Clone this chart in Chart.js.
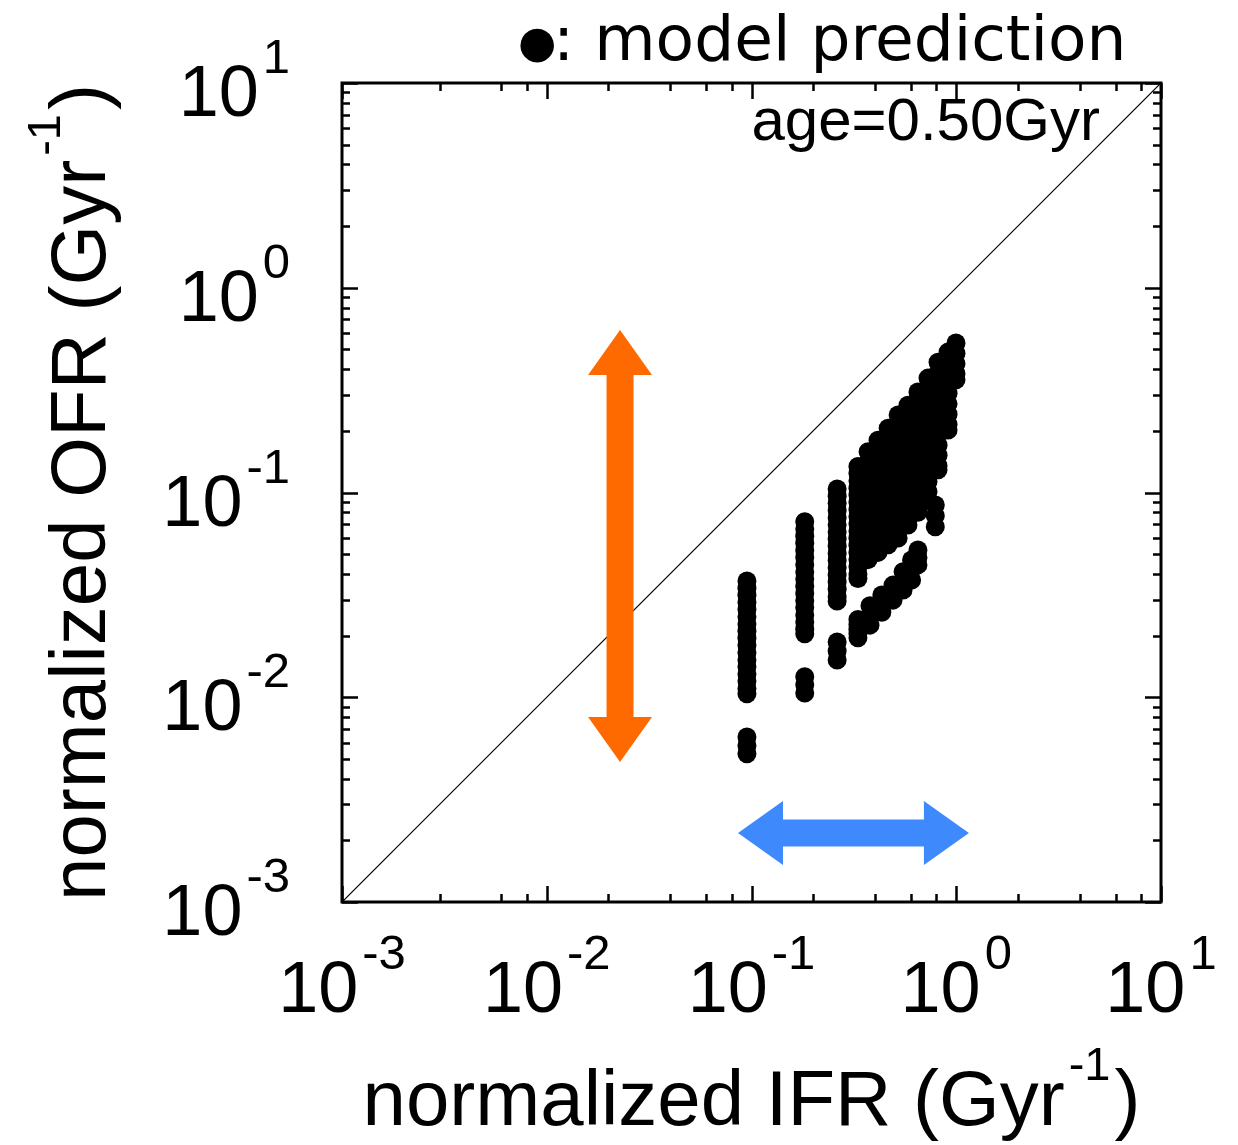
<!DOCTYPE html>
<html>
<head>
<meta charset="utf-8">
<script src="https://cdn.jsdelivr.net/npm/chart.js@4.4.1/dist/chart.umd.min.js"></script>
<style>
  body { margin: 0; background: #fff; }
  #wrap { width: 1238px; height: 1145px; }
</style>
</head>
<body>
<div id="wrap"><canvas id="ofrChart" width="1238" height="1145"></canvas></div>
<script>
// normalized IFR of each model column, and the OFR values predicted in that column
const ifrColumns = [0.095, 0.182, 0.262, 0.331, 0.371, 0.379, 0.415, 0.433, 0.465, 0.491,
                    0.520, 0.550, 0.581, 0.605, 0.650, 0.728, 0.79, 0.815, 0.912, 0.997];
const ofrColumns = [
  [0.0370, 0.0341, 0.0315, 0.0290, 0.0268, 0.0247, 0.0228, 0.0210, 0.0194, 0.0179, 0.0165,
   0.0152, 0.0141, 0.0130, 0.0120, 0.0110, 0.0104, 0.0064, 0.0058, 0.0053],
  [0.0720, 0.0664, 0.0612, 0.0565, 0.0521, 0.0481, 0.0444, 0.0409, 0.0378, 0.0348, 0.0321,
   0.0296, 0.0274, 0.0252, 0.0233, 0.0215, 0.0204, 0.0126, 0.0115, 0.0105],
  [0.104, 0.0959, 0.0885, 0.0817, 0.0753, 0.0695, 0.0641, 0.0592, 0.0546, 0.0504, 0.0465,
   0.0429, 0.0395, 0.0365, 0.0337, 0.0310, 0.0295, 0.0186, 0.0168, 0.0152],
  [0.134, 0.124, 0.114, 0.105, 0.0971, 0.0895, 0.0826, 0.0762, 0.0703, 0.0649, 0.0598,
   0.0552, 0.0509, 0.0470, 0.0434, 0.0400, 0.0380, 0.0240, 0.0227, 0.0215, 0.0205, 0.0195],
  [0.158, 0.141, 0.125, 0.112, 0.100, 0.089, 0.079, 0.070, 0.063, 0.056, 0.050, 0.047],
  [0.028, 0.025, 0.0225],
  [0.180, 0.160, 0.143, 0.127, 0.113, 0.101, 0.090, 0.080, 0.071, 0.063, 0.056, 0.051],
  [0.0316, 0.0285, 0.026],
  [0.206, 0.183, 0.163, 0.145, 0.129, 0.115, 0.102, 0.091, 0.081, 0.072, 0.064, 0.0555],
  [0.0353, 0.032, 0.0298],
  [0.239, 0.212, 0.189, 0.168, 0.150, 0.133, 0.118, 0.105, 0.094, 0.083, 0.074, 0.066, 0.060],
  [0.041, 0.037, 0.0334],
  [0.267, 0.238, 0.212, 0.189, 0.168, 0.149, 0.133, 0.118, 0.105, 0.094, 0.083, 0.074, 0.0694],
  [0.0468, 0.042, 0.0374],
  [0.310, 0.276, 0.246, 0.219, 0.195, 0.173, 0.154, 0.137, 0.122, 0.109, 0.097, 0.086, 0.080, 0.0524, 0.048, 0.0443],
  [0.362, 0.322, 0.287, 0.255, 0.227, 0.202, 0.180, 0.160, 0.143, 0.127, 0.113, 0.101, 0.092],
  [0.087, 0.077, 0.068],
  [0.433, 0.385, 0.343, 0.305, 0.272, 0.242, 0.215, 0.192, 0.170, 0.152, 0.135, 0.129],
  [0.485, 0.432, 0.385, 0.342, 0.305, 0.271, 0.241, 0.215, 0.202],
  [0.537, 0.478, 0.425, 0.380, 0.355]
];

// axes range and decade labels
const axisMin = 0.001;
const axisMax = 10;
const decadeValues = [0.001, 0.01, 0.1, 1, 10];
const decadeExponents = ["-3", "-2", "-1", "0", "1"];

// one-to-one line and the two range arrows (data units)
const oneToOneX = [0.001, 10];
const oneToOneY = [0.001, 10];
const orangeArrowX = [0.0228, 0.0228];
const orangeArrowY = [0.00483, 0.622];
const blueArrowX = [0.0859, 1.153];
const blueArrowY = [0.00217, 0.00217];

const texts = {
  xTitle: "normalized IFR (Gyr",
  yTitle: "normalized OFR (Gyr",
  unitExp: "-1",
  age: "age=0.50Gyr",
  legend: ": model prediction"
};

let modelPoints = [];
ifrColumns.forEach((ifr, i) => {
  ofrColumns[i].forEach(ofr => modelPoints.push({ x: ifr, y: ofr }));
});

let linePoints = oneToOneX.map((x, i) => ({ x: x, y: oneToOneY[i] }));

const sans = '"Liberation Sans", Arial, Helvetica, sans-serif';

function drawArrow(ctx, x1, y1, x2, y2, color) {
  const shaft = 13.5, headHalf = 32, headLen = 45;
  const len = Math.hypot(x2 - x1, y2 - y1);
  ctx.save();
  ctx.translate(x1, y1);
  ctx.rotate(Math.atan2(y2 - y1, x2 - x1));
  ctx.fillStyle = color;
  ctx.beginPath();
  ctx.moveTo(0, 0);
  ctx.lineTo(headLen, -headHalf);
  ctx.lineTo(headLen, -shaft);
  ctx.lineTo(len - headLen, -shaft);
  ctx.lineTo(len - headLen, -headHalf);
  ctx.lineTo(len, 0);
  ctx.lineTo(len - headLen, headHalf);
  ctx.lineTo(len - headLen, shaft);
  ctx.lineTo(headLen, shaft);
  ctx.lineTo(headLen, headHalf);
  ctx.closePath();
  ctx.fill();
  ctx.restore();
}

// "10" with a raised exponent; align is 'center' or 'right'
function drawPower(ctx, exp, x, baseline, align) {
  ctx.font = "72px " + sans;
  const wb = ctx.measureText("10").width;
  ctx.font = "49px " + sans;
  const we = ctx.measureText(exp).width;
  const total = wb + 4 + we;
  const start = align === "center" ? x - total / 2 : x - total;
  ctx.textAlign = "left";
  ctx.textBaseline = "alphabetic";
  ctx.font = "72px " + sans;
  ctx.fillText("10", start, baseline);
  ctx.font = "49px " + sans;
  ctx.fillText(exp, start + wb + 4, baseline - 43);
}

// title with "(Gyr^-1)" drawn centred at (cx, baseline) in the current transform
function drawTitle(ctx, text, cx, baseline) {
  ctx.font = "78px " + sans;
  const w1 = ctx.measureText(text).width;
  const w3 = ctx.measureText(")").width;
  ctx.font = "47px " + sans;
  const w2 = ctx.measureText(texts.unitExp).width;
  const total = w1 + 4 + w2 + 4 + w3;
  let x = cx - total / 2;
  ctx.textAlign = "left";
  ctx.textBaseline = "alphabetic";
  ctx.font = "78px " + sans;
  ctx.fillText(text, x, baseline);
  ctx.font = "47px " + sans;
  ctx.fillText(texts.unitExp, x + w1 + 4, baseline - 45);
  ctx.font = "78px " + sans;
  ctx.fillText(")", x + w1 + 4 + w2 + 4, baseline);
}

const framePlugin = {
  id: "frame",
  afterDatasetsDraw(chart) {
    const ctx = chart.ctx;
    const xs = chart.scales.x, ys = chart.scales.y;
    drawArrow(ctx, xs.getPixelForValue(orangeArrowX[0]), ys.getPixelForValue(orangeArrowY[0]),
              xs.getPixelForValue(orangeArrowX[1]), ys.getPixelForValue(orangeArrowY[1]), "#ff6a00");
    drawArrow(ctx, xs.getPixelForValue(blueArrowX[0]), ys.getPixelForValue(blueArrowY[0]),
              xs.getPixelForValue(blueArrowX[1]), ys.getPixelForValue(blueArrowY[1]), "#3e8afd");
  },
  afterDraw(chart) {
    const ctx = chart.ctx;
    const a = chart.chartArea;
    const xs = chart.scales.x, ys = chart.scales.y;
    ctx.save();

    // ticks, inward on all four sides
    const isMinorOrMajor = v => {
      const m = v / Math.pow(10, Math.floor(Math.log10(v) + 1e-9));
      return Math.abs(m - Math.round(m)) < 1e-6;
    };
    const isDecade = v => Math.abs(Math.log10(v) - Math.round(Math.log10(v))) < 1e-6;
    ctx.strokeStyle = "#000";
    ctx.lineWidth = 2.5;
    ctx.beginPath();
    xs.ticks.map(t => t.value).filter(isMinorOrMajor).forEach(v => {
      const p = Math.round(xs.getPixelForValue(v)) + 0.5;
      const len = isDecade(v) ? 16 : 8;
      ctx.moveTo(p, a.bottom); ctx.lineTo(p, a.bottom - len);
      ctx.moveTo(p, a.top); ctx.lineTo(p, a.top + len);
    });
    ys.ticks.map(t => t.value).filter(isMinorOrMajor).forEach(v => {
      const p = Math.round(ys.getPixelForValue(v)) + 0.5;
      const len = isDecade(v) ? 16 : 8;
      ctx.moveTo(a.left, p); ctx.lineTo(a.left + len, p);
      ctx.moveTo(a.right, p); ctx.lineTo(a.right - len, p);
    });
    ctx.stroke();

    // frame
    ctx.lineWidth = 3;
    ctx.strokeRect(a.left, a.top, a.right - a.left, a.bottom - a.top);

    // tick labels
    ctx.fillStyle = "#000";
    decadeValues.forEach((v, i) => {
      drawPower(ctx, decadeExponents[i], xs.getPixelForValue(v), a.bottom + 110, "center");
      drawPower(ctx, decadeExponents[i], a.left - 52, ys.getPixelForValue(v) + 33, "right");
    });

    // axis titles
    drawTitle(ctx, texts.xTitle, (a.left + a.right) / 2, 1125);
    ctx.save();
    ctx.translate(105, (a.top + a.bottom) / 2);
    ctx.rotate(-Math.PI / 2);
    drawTitle(ctx, texts.yTitle, 0, 0);
    ctx.restore();

    // annotation inside the frame
    ctx.font = "60px " + sans;
    ctx.textAlign = "right";
    ctx.fillText(texts.age, 1100, 140);

    // legend line above the frame
    ctx.font = '44px "DejaVu Sans", sans-serif';
    ctx.textAlign = "left";
    ctx.fillText("\u25CF", 518, 57);
    ctx.font = '63px "DejaVu Sans", sans-serif';
    ctx.fillText(texts.legend, 553, 60);

    ctx.restore();
  }
};

new Chart(document.getElementById("ofrChart"), {
  type: "scatter",
  data: {
    datasets: [
      {
        label: "one-to-one",
        data: linePoints,
        showLine: true,
        borderColor: "#000",
        borderWidth: 1.2,
        pointRadius: 0,
        fill: false
      },
      {
        label: "model prediction",
        data: modelPoints,
        backgroundColor: "#000",
        borderWidth: 0,
        pointRadius: 9.5,
        pointHoverRadius: 9.5
      }
    ]
  },
  options: {
    responsive: false,
    animation: false,
    events: [],
    layout: { padding: { left: 342, top: 83, right: 77, bottom: 243 } },
    plugins: { legend: { display: false }, tooltip: { enabled: false } },
    scales: {
      x: { type: "logarithmic", min: axisMin, max: axisMax, display: false },
      y: { type: "logarithmic", min: axisMin, max: axisMax, display: false }
    }
  },
  plugins: [framePlugin]
});
</script>
</body>
</html>
